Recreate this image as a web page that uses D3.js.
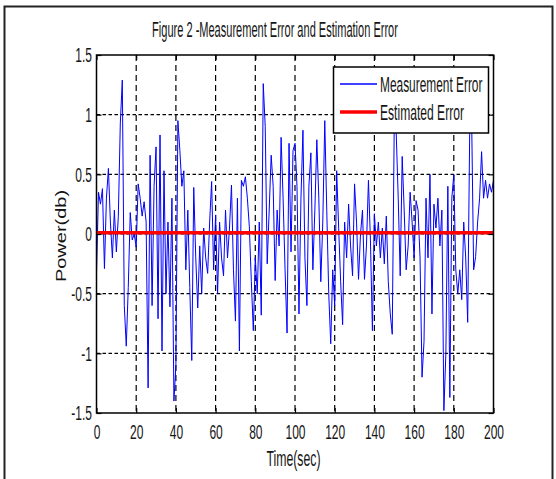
<!DOCTYPE html>
<html>
<head>
<meta charset="utf-8">
<script src="https://d3js.org/d3.v7.min.js"></script>
<style>
    body { margin: 0; background: #fff; }
    text { font-family: "Liberation Sans", Arial, sans-serif; fill: #151515; }
</style>
</head>
<body>
<svg id="chart" width="556" height="479"></svg>
<script>
// measurement error, one sample per second, t = 0..200 (index = seconds)
const measErr = [
    -0.33, 0.35, 0.25, 0.38, -0.29, 0.3, 0.55, 0.1, -0.2, 0.2,
    -0.15, 0.15, 0.93, 1.29, -0.6, -0.94, -0.45, 0.18, -0.05, 0.0,
    -0.11, 0.42, 0.3, 0.15, 0.27, 0.1, -1.29, 0.66, -0.6, 0.4,
    0.73, -0.71, 0.83, -0.98, 0.53, -0.5, 0.1, -0.61, 0.3, -1.4,
    -1.1, 0.95, 0.7, 0.4, 0.53, -0.3, 0.2, -0.45, -1.06, 0.39,
    -0.2, -0.62, -0.1, -0.5, 0.05, -0.2, -0.33, 0.1, 0.44, -0.3,
    0.16, -0.5, 0.1, -0.2, -0.35, 0.2, -0.2, 0.05, 0.41, -0.3,
    -0.73, 0.3, -0.98, 0.45, 0.4, 0.48, 0.3, 0.06, -0.4, -0.81,
    -0.2, -0.5, 0.1, -0.68, 1.26, 0.9, -0.25, 0.2, 0.66, 0.4,
    -0.39, 0.2, -0.1, 0.81, 0.3, -0.3, -0.83, 0.76, -0.15, 0.7,
    0.76, 0.4, -0.67, 0.3, 0.87, -0.2, -0.6, 0.4, 0.68, -0.3,
    0.2, 0.79, 0.3, -0.4, 0.1, 0.95, 0.2, -0.5, -0.92, -0.3,
    -0.6, 0.53, 0.05, -0.4, -0.76, 0.1, -0.2, 0.25, -0.1, -0.35,
    0.42, 0.1, -0.38, 0.0, 0.2, -0.38, -0.1, 0.45, -0.05, -0.81,
    0.17, -0.1, 0.1, -0.2, 0.05, -0.25, 0.15, -0.4, -0.67, -0.84,
    0.93, 0.84, 0.3, -0.35, 0.65, 0.2, -0.3, -0.1, 0.35, 0.1,
    -0.2, 0.28, 0.2, -0.2, -1.2, -0.9, 0.3, -0.2, 0.5, -0.67,
    0.25, 0.05, 0.3, -0.1, 0.2, -1.48, -1.0, 0.4, -1.37, 0.3,
    0.5, -0.3, -0.5, -0.3, -0.55, 0.1, -0.2, -0.74, 0.84, 0.95,
    -0.3, -0.19, 0.1, 0.3, 0.69, 0.3, 0.45, 0.3, 0.42, 0.35,
    0.45
];

// estimated error stays flat near zero
const estTime = [0, 50, 100, 150, 200];
const estErr = [0.01, 0.01, 0.01, 0.01, 0.01];

const xTicks = [0, 20, 40, 60, 80, 100, 120, 140, 160, 180, 200];
const yTicks = [-1.5, -1, -0.5, 0, 0.5, 1, 1.5];
const yTickLabels = ['-1.5', '-1', '-0.5', '0', '0.5', '1', '1.5'];

const seriesNames = ['Measurement Error', 'Estimated Error'];
const seriesColors = ['#0000ff', '#ff0000'];

const titleText = 'Figure 2 -Measurement Error and Estimation Error';

let svg = d3.select('#chart');
let plot = {left: 96.5, right: 493.5, top: 55, bottom: 413};

let x = d3.scaleLinear().domain([0, 200]).range([plot.left, plot.right]);
let y = d3.scaleLinear().domain([-1.5, 1.5]).range([plot.bottom, plot.top]);

// the figure is squashed sideways, so every text gets squeezed in x
const squeeze = 0.6;

// outer frame of the figure
svg.append('rect')
    .attr('x', 4.5).attr('y', 6.5)
    .attr('width', 548).attr('height', 500)
    .attr('fill', 'none').attr('stroke', '#222').attr('stroke-width', 2);

// dashed grid
svg.append('g').selectAll('line')
    .data(xTicks.slice(1, -1))
    .enter().append('line')
    .attr('x1', d => x(d)).attr('x2', d => x(d))
    .attr('y1', plot.top).attr('y2', plot.bottom)
    .attr('stroke', '#000').attr('stroke-width', 1.2)
    .attr('stroke-dasharray', '6,4');

svg.append('g').selectAll('line')
    .data(yTicks.slice(1, -1))
    .enter().append('line')
    .attr('x1', plot.left).attr('x2', plot.right)
    .attr('y1', d => y(d)).attr('y2', d => y(d))
    .attr('stroke', '#000').attr('stroke-width', 1.2)
    .attr('stroke-dasharray', '3.5,2.5');

// data lines
let line = d3.line().x((d, i) => x(i)).y(d => y(d));
svg.append('path')
    .datum(measErr)
    .attr('d', line)
    .attr('fill', 'none')
    .attr('stroke', seriesColors[0])
    .attr('stroke-width', 1);

let estLine = d3.line().x((d, i) => x(estTime[i])).y(d => y(d));
svg.append('path')
    .datum(estErr)
    .attr('d', estLine)
    .attr('fill', 'none')
    .attr('stroke', seriesColors[1])
    .attr('stroke-width', 3.5);

// axes, ticks point inward like matlab
let xAxis = d3.axisBottom(x).tickValues(xTicks).tickSize(-5).tickPadding(13).tickFormat(d3.format('d'));
let yAxis = d3.axisLeft(y).tickValues(yTicks).tickSize(-5).tickPadding(4.5)
    .tickFormat((d, i) => yTickLabels[i]);

let gx = svg.append('g').attr('transform', `translate(0,${plot.bottom})`).call(xAxis);
let gy = svg.append('g').attr('transform', `translate(${plot.left},0)`).call(yAxis);
svg.append('g').attr('transform', `translate(0,${plot.top})`)
    .call(d3.axisTop(x).tickValues(xTicks).tickSize(-5).tickFormat(''));
svg.append('g').attr('transform', `translate(${plot.right},0)`)
    .call(d3.axisRight(y).tickValues(yTicks).tickSize(-5).tickFormat(''));

svg.selectAll('.domain').remove();
svg.selectAll('.tick line').attr('stroke', '#000').attr('stroke-width', 1.2);

gx.selectAll('text')
    .style('font-size', '20px')
    .attr('fill', '#151515')
    .attr('y', 12)
    .attr('transform', `scale(${squeeze},1)`);
gy.selectAll('text')
    .style('font-size', '20px')
    .attr('fill', '#151515')
    .attr('x', -4.5 / squeeze)
    .attr('dy', '0.34em')
    .attr('transform', `scale(${squeeze},1)`);

// plot box
svg.append('rect')
    .attr('x', plot.left).attr('y', plot.top)
    .attr('width', plot.right - plot.left).attr('height', plot.bottom - plot.top)
    .attr('fill', 'none').attr('stroke', '#000').attr('stroke-width', 1.5);

// squeeze a text to a given width, anchored at x,y
function addText(txt, px, py, size, width, anchor) {
    let t = svg.append('text')
        .text(txt)
        .style('font-size', size + 'px')
        .attr('text-anchor', anchor || 'middle');
    let k = width / t.node().getComputedTextLength();
    t.attr('transform', `translate(${px},${py}) scale(${k},1)`);
    return t;
}

addText(titleText, 275, 37, 22, 246);
addText('Time(sec)', 293.5, 466, 22, 54);

svg.append('text')
    .text('Power(db)')
    .style('font-size', '20px')
    .attr('text-anchor', 'middle')
    .attr('transform', `translate(66,236) rotate(-90) scale(1,0.72)`);

// legend
let legend = svg.append('g');
legend.append('rect')
    .attr('x', 333.5).attr('y', 67)
    .attr('width', 155).attr('height', 66)
    .attr('fill', '#fff').attr('stroke', '#000').attr('stroke-width', 1.5);

let legY = [84, 112];
let legW = [102.5, 84];
seriesNames.forEach((name, i) => {
    legend.append('line')
        .attr('x1', 340).attr('x2', 377)
        .attr('y1', legY[i]).attr('y2', legY[i])
        .attr('stroke', seriesColors[i])
        .attr('stroke-width', i === 0 ? 1.5 : 3.5);
    addText(name, 380, legY[i] + 8, 22, legW[i], 'start');
});
</script>
</body>
</html>
